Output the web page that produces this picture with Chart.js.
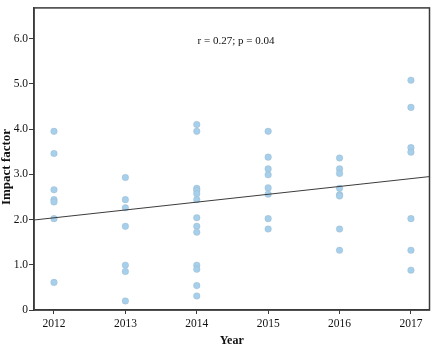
<!DOCTYPE html>
<html>
<head>
<meta charset="utf-8">
<script src="https://cdn.jsdelivr.net/npm/chart.js@4"></script>
<style>
  html, body { margin: 0; padding: 0; background: #fff; }
  canvas { display: block; }
</style>
</head>
<body>
<canvas id="c" width="434" height="347"></canvas>
<script>
// Journal impact factor by publication year
const years = [2012, 2013, 2014, 2015, 2016, 2017];
const impact2012 = [3.95, 3.46, 2.66, 2.44, 2.39, 2.02, 0.61];
const impact2013 = [2.93, 2.44, 2.26, 1.85, 0.99, 0.85, 0.20];
const impact2014 = [4.10, 3.95, 2.69, 2.64, 2.57, 2.44, 2.04, 1.85, 1.72, 0.99, 0.90, 0.54, 0.31];
const impact2015 = [3.95, 3.38, 3.12, 2.99, 2.70, 2.56, 2.02, 1.79];
const impact2016 = [3.36, 3.12, 3.02, 2.69, 2.55, 2.52, 1.79, 1.32];
const impact2017 = [5.08, 4.48, 3.59, 3.49, 2.02, 1.32, 0.88];
const yTicks = [0, 1, 2, 3, 4, 5, 6];
const yTickLabels = ['0', '1.0', '2.0', '3.0', '4.0', '5.0', '6.0'];

// axis extents and fitted trend line (value at each end of the x range)
const xExtent = [2011.72, 2017.26];
const yExtent = [0, 6.68];
const trendAtEnds = [1.99, 2.95];
const statsText = 'r = 0.27; p = 0.04';

const byYear = [impact2012, impact2013, impact2014, impact2015, impact2016, impact2017];
const points = [];
byYear.forEach((vals, i) => vals.forEach(v => points.push({ x: years[i], y: v })));
const trend = xExtent.map((x, i) => ({ x: x, y: trendAtEnds[i] }));

const serif = '"Liberation Serif", "Times New Roman", serif';
const ink = '#111';

const frameAndText = {
  id: 'frameAndText',
  afterDraw(chart) {
    const { ctx, chartArea: a, scales } = chart;
    ctx.save();
    ctx.strokeStyle = '#3a3a3a';
    ctx.lineWidth = 1.5;
    ctx.strokeRect(a.left, a.top, a.right - a.left, a.bottom - a.top);

    ctx.fillStyle = ink;
    ctx.font = '11px ' + serif;
    ctx.textAlign = 'center';
    ctx.textBaseline = 'middle';
    ctx.fillText(statsText, scales.x.getPixelForValue(2014.55), scales.y.getPixelForValue(5.94));

    ctx.font = 'bold 13px ' + serif;
    ctx.translate(7, 167);
    ctx.rotate(-Math.PI / 2);
    ctx.fillText('Impact factor', 0, 0);
    ctx.restore();
  }
};

new Chart(document.getElementById('c'), {
  type: 'scatter',
  data: {
    datasets: [
      {
        type: 'line',
        data: trend,
        borderColor: '#3c3c3c',
        borderWidth: 1,
        pointRadius: 0,
        fill: false
      },
      {
        data: points,
        backgroundColor: '#a5cfea',
        borderColor: 'rgba(150,172,190,0.6)',
        borderWidth: 0.5,
        pointRadius: 3.3
      }
    ]
  },
  options: {
    responsive: false,
    devicePixelRatio: 1,
    animation: false,
    layout: { padding: { top: 2, right: 3, left: 0, bottom: 0 } },
    plugins: { legend: { display: false }, tooltip: { enabled: false } },
    scales: {
      x: {
        type: 'linear',
        min: xExtent[0],
        max: xExtent[1],
        afterFit: s => { s.height = 37; },
        afterBuildTicks: s => { s.ticks = years.map(v => ({ value: v })); },
        ticks: {
          callback: v => String(v),
          color: ink,
          font: { family: serif, size: 11.5 },
          padding: 3,
          maxRotation: 0
        },
        grid: { display: true, drawOnChartArea: false, drawTicks: true, tickLength: 4, color: '#3a3a3a' },
        border: { display: true, color: '#3a3a3a', width: 1.5 },
        title: {
          display: true,
          text: 'Year',
          color: ink,
          font: { family: serif, size: 12, weight: 'bold', lineHeight: 1 },
          padding: { top: 0, bottom: 0 }
        }
      },
      y: {
        min: yExtent[0],
        max: yExtent[1],
        afterFit: s => { s.width = 34; },
        afterBuildTicks: s => { s.ticks = yTicks.map(v => ({ value: v })); },
        ticks: {
          callback: (v) => yTickLabels[yTicks.indexOf(v)],
          color: ink,
          font: { family: serif, size: 11.5 },
          padding: 1
        },
        grid: { display: true, drawOnChartArea: false, drawTicks: true, tickLength: 5, color: '#3a3a3a' },
        border: { display: true, color: '#3a3a3a', width: 1.5 }
      }
    }
  },
  plugins: [frameAndText]
});
</script>
</body>
</html>
